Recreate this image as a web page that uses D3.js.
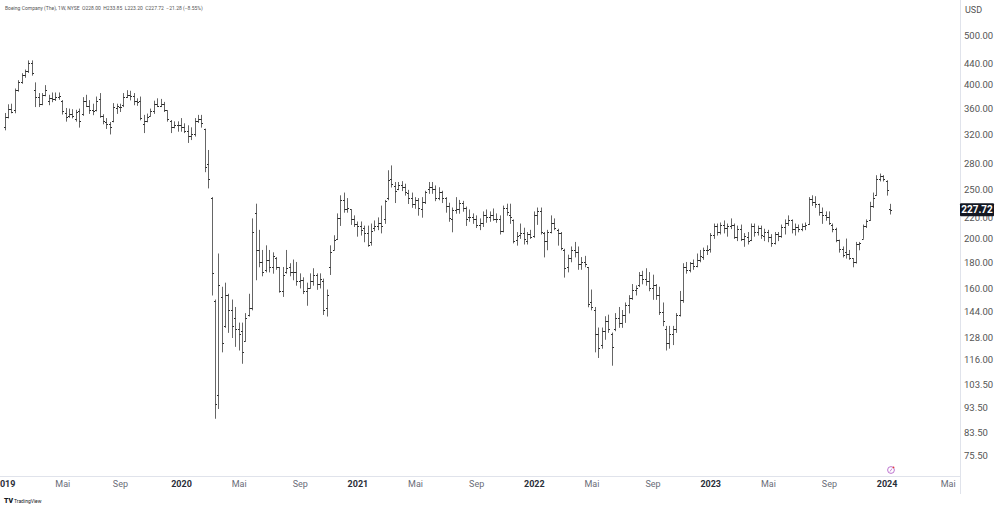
<!DOCTYPE html>
<html><head><meta charset="utf-8">
<script src="https://cdn.jsdelivr.net/npm/d3@7/dist/d3.min.js"></script>
<style>html,body{margin:0;padding:0;background:#fff;}svg{display:block;}</style>
</head><body>
<svg id="chart" width="1000" height="517"></svg>
<script>
// ---- DATA (weekly OHLC, Boeing, NYSE) ----
const firstWeek = "2019-01-07";
const bars2019 = [
[330,352,326,345],[346,366,344,358],[358,367,352,354],[356,393,352,390],[390,408,388,405],
[405,421,402,418],[418,428,413,425],[426,446,422,440],[440,446,417,422],[390,404,362,379],
[378,385,362,367],[367,385,365,381],[382,399,380,391],[372,382,365,376],[376,386,370,375],
[375,386,372,378],[378,386,374,380],[372,373,350,355],[352,360,339,345],[347,359,345,350],
[350,358,344,347],[342,357,339,354],[355,359,330,340],[350,378,348,372],[372,382,362,364],
[364,373,351,356],[356,367,349,355],[356,379,355,372],[375,385,345,348],[348,350,335,340],
[338,344,328,335],[335,338,320,330],[340,368,338,362],[360,367,351,364],[362,367,354,362],
[365,385,362,378],[378,390,377,382],[382,389,373,380],[380,385,365,372],[372,376,364,370],
[372,379,341,344],[335,349,322,340],[340,351,338,345],[348,359,347,355],[355,372,351,367],
[367,376,362,364],[364,375,362,366],[366,370,354,356],[356,356,339,342],[340,341,322,331],
[331,339,329,333],[333,339,324,333]];
const bars2020 = [
[333,344,324,331],[331,336,322,325],[325,333,308,317],[317,330,312,320],[320,344,317,340],
[340,349,337,343],[343,349,330,336],[328,328,270,276],[280,298,251,262],[240,241,155,171],
[151,152,89,95],[99,187,93,162],[154,161,120,125],[135,164,134,155],[155,156,131,145],
[145,152,128,135],[140,147,123,133],[133,137,121,130],[132,137,114,120],[126,143,126,140],
[142,156,141,146],[146,219,145,206],[224,234,166,190],[190,208,176,180],[180,190,169,172],
[174,194,172,182],[182,190,172,176],[176,188,171,185],[183,184,174,176],[176,176,157,158],
[158,176,154,170],[172,190,171,175],[176,179,169,172],[172,182,166,172],[172,180,162,165],
[165,171,160,166],[166,168,156,158],[158,164,148,160],[160,171,160,165],[165,175,162,170],
[170,171,159,163],[163,171,160,167],[165,167,142,145],[146,159,141,155],[176,194,170,188],
[190,203,190,199],[200,224,199,219],[219,243,212,238],[238,246,225,228],[228,240,225,230],
[228,228,213,218],[218,222,211,214]];
const bars2021 = [
[214,216,202,212],[212,216,203,208],[210,212,197,205],[205,212,193,194],[197,214,194,207],
[210,217,207,212],[212,220,208,215],[215,232,205,212],[218,238,214,237],[240,272,238,260],
[262,278,252,256],[253,258,235,248],[250,258,249,254],[254,259,248,252],[252,256,243,247],
[246,249,234,240],[240,246,230,234],[234,241,229,238],[238,240,222,230],[228,241,220,236],
[236,248,234,247],[250,258,245,252],[252,258,245,250],[250,254,237,240],[240,252,238,247],
[247,248,235,240],[240,241,225,232],[232,235,216,219],[218,230,206,227],[227,241,224,228],
[228,238,224,235],[235,237,226,230],[230,231,212,218],[220,228,216,220],[220,224,214,218],
[218,222,210,213],[213,219,208,215],[215,226,211,222],[222,228,215,220],[220,226,216,222],
[222,229,217,218],[218,224,215,218],[218,222,204,207],[207,232,206,230],[230,234,222,225],
[222,234,214,220],[217,218,196,198],[199,206,194,202],[203,214,200,205],[205,210,195,200],
[198,206,195,204],[204,208,200,201]];
const bars2022 = [
[202,226,201,222],[222,230,213,226],[226,230,204,206],[205,206,184,198],[198,208,190,206],
[206,222,205,215],[215,219,208,210],[208,209,194,205],[205,206,190,192],[190,191,168,175],
[176,186,172,183],[183,193,180,190],[190,197,184,188],[188,193,174,178],[178,184,174,180],
[180,185,176,178],[176,176,147,149],[150,159,145,147],[145,147,120,130],[130,134,117,122],
[124,134,122,132],[132,141,127,138],[138,142,131,133],[130,131,113,123],[133,143,132,140],
[140,147,134,137],[137,145,134,142],[142,150,137,148],[148,155,143,153],[153,163,152,159],
[159,162,155,160],[162,172,161,170],[170,173,163,167],[167,175,162,165],[165,172,158,160],
[160,170,152,162],[162,163,152,155],[155,161,142,144],[144,150,135,138],[133,135,121,125],
[125,135,122,130],[130,135,124,133],[133,143,131,142],[142,158,141,152],[152,179,150,176],
[176,180,171,174],[174,180,172,179],[179,182,174,177],[177,187,176,182],[182,190,180,185],
[184,192,182,190],[190,194,186,190]];
const bars2023 = [
[191,205,188,203],[203,214,200,212],[212,214,203,206],[206,215,204,213],[213,217,205,210],
[210,214,202,212],[212,219,209,213],[213,214,200,201],[201,212,198,209],[209,213,198,200],
[200,205,193,202],[201,206,195,198],[199,214,198,212],[212,214,202,206],[206,212,203,210],
[210,212,200,203],[202,209,198,206],[206,208,197,201],[201,204,193,196],[196,206,195,204],
[204,206,198,202],[202,213,201,211],[211,218,204,215],[215,222,212,217],[217,218,205,209],
[209,214,203,211],[211,213,206,209],[209,214,207,212],[212,215,208,213],[214,241,213,239],
[239,243,232,236],[236,242,230,234],[234,234,222,225],[225,230,214,222],[222,226,217,220],
[220,226,213,215],[213,214,206,209],[209,210,197,199],[199,199,188,191],[191,193,184,186],
[188,200,183,187],[187,190,182,183],[183,183,176,180],[180,197,179,195],[195,197,190,196],
[200,213,200,212],[212,218,210,216],[217,236,217,232],[232,246,230,240],[243,266,243,262],
[262,268,259,265],[265,266,259,261]];
const bars2024 = [[259,260,243,249],[228.00,233.85,223.20,227.72]];

const priceTicks = [500,440,400,360,320,280,250,220,200,180,160,144,128,116,103.5,93.5,83.5,75.5];
const timeTicks = [
 ["2019-01-07","2019",true],["2019-05-06","Mai",false],["2019-09-02","Sep",false],
 ["2020-01-06","2020",true],["2020-05-04","Mai",false],["2020-09-07","Sep",false],
 ["2021-01-04","2021",true],["2021-05-03","Mai",false],["2021-09-06","Sep",false],
 ["2022-01-03","2022",true],["2022-05-02","Mai",false],["2022-09-05","Sep",false],
 ["2023-01-02","2023",true],["2023-05-01","Mai",false],["2023-09-04","Sep",false],
 ["2024-01-01","2024",true],["2024-05-06","Mai",false]];
const headerText = "Boeing Company (The), 1W, NYSE  O228.00  H233.85  L223.20  C227.72  \u221221.28 (\u22128.55%)";
const lastPrice = 227.72;

// ---- BUILD ----
const plotR = 960, plotB = 476;
const svg = d3.select("#chart");
const t0 = Date.parse(firstWeek + "T00:00:00Z");
const WEEK = 7*864e5;
const bars = [bars2019,bars2020,bars2021,bars2022,bars2023,bars2024].flat()
  .map((d,i)=>({date:new Date(t0+i*WEEK),o:d[0],h:d[1],l:d[2],c:d[3]}));

const x = d3.scaleUtc()
  .domain([new Date(t0), bars[bars.length-1].date])
  .range([4.6, 890]);
const y = d3.scaleLog().domain([500,75.5]).range([35,455]);

const font = "Roboto, 'Open Sans', sans-serif";

// frame lines
svg.append("line").attr("x1",plotR+0.5).attr("x2",plotR+0.5).attr("y1",0).attr("y2",494)
  .attr("stroke","#e0e3eb").attr("stroke-width",1);
svg.append("line").attr("x1",0).attr("x2",plotR).attr("y1",plotB+0.5).attr("y2",plotB+0.5)
  .attr("stroke","#e0e3eb").attr("stroke-width",1);

// bars
const g = svg.append("g");
const barG = g.selectAll("g.bar").data(bars).join("g").attr("class","bar");
const px = d => Math.round(x(d.date)) + 0.5;
const colV = "#666", colT = "#2a2a2a";
barG.append("line").attr("x1",px).attr("x2",px)
  .attr("y1",d=>y(d.h)).attr("y2",d=>y(d.l)+0.3).attr("stroke",colV).attr("stroke-width",1);
barG.append("line").attr("x1",d=>px(d)-1.5).attr("x2",d=>px(d))
  .attr("y1",d=>Math.round(y(d.o))+0.5).attr("y2",d=>Math.round(y(d.o))+0.5).attr("stroke",colT);
barG.append("line").attr("x1",d=>px(d)).attr("x2",d=>px(d)+1.5)
  .attr("y1",d=>Math.round(y(d.c))+0.5).attr("y2",d=>Math.round(y(d.c))+0.5).attr("stroke",colT);

// y axis
const yAxis = d3.axisRight(y).tickValues(priceTicks).tickFormat(d3.format(".2f")).tickSize(0).tickPadding(4);
const ya = svg.append("g").attr("transform",`translate(${plotR},0)`).call(yAxis);
ya.select(".domain").remove();
ya.selectAll("text").attr("font-family",font).attr("font-size",9.5).attr("fill","#555");

// USD label
svg.append("text").attr("x",965).attr("y",13).text("USD")
  .attr("font-family",font).attr("font-size",9).attr("fill","#555");

// last price label
const ly = y(lastPrice);
svg.append("rect").attr("x",960).attr("y",ly-6.5).attr("width",34).attr("height",13).attr("fill","#131722").attr("rx",1);
svg.append("text").attr("x",977).attr("y",ly+3.5).attr("text-anchor","middle").text(d3.format(".2f")(lastPrice))
  .attr("font-family",font).attr("font-size",10).attr("font-weight","bold").attr("fill","#fff");

// x axis
const tickMap = new Map(timeTicks.map(t=>[Date.parse(t[0]+"T00:00:00Z"),t]));
const xAxis = d3.axisBottom(x).tickValues(timeTicks.map(t=>new Date(t[0]+"T00:00:00Z")))
  .tickFormat(d=>tickMap.get(+d)[1]).tickSize(0).tickPadding(5);
const xa = svg.append("g").attr("transform",`translate(0,${plotB})`).call(xAxis);
xa.select(".domain").remove();
xa.selectAll("text").attr("font-family",font).attr("font-size",9)
  .attr("font-weight",d=>tickMap.get(+d)[2]?"bold":"normal")
  .attr("fill",d=>tickMap.get(+d)[2]?"#2a2e39":"#6a6d78");

// header
svg.append("text").attr("x",5).attr("y",10).text(headerText)
  .attr("font-family",font).attr("font-size",5).attr("fill","#555").attr("xml:space","preserve");

// event marker
svg.append("circle").attr("cx",891).attr("cy",470).attr("r",3.4).attr("fill","#fff").attr("stroke","#b565c9").attr("stroke-width",0.9);
svg.append("line").attr("x1",890).attr("x2",892).attr("y1",471.5).attr("y2",468.5).attr("stroke","#b565c9").attr("stroke-width",0.8);
svg.append("circle").attr("cx",893.5).attr("cy",467.3).attr("r",0.9).attr("fill","#e53935");

// TradingView logo
svg.append("text").attr("x",4).attr("y",503).text("TV").attr("font-family",font)
  .attr("font-size",7).attr("font-weight","900").attr("fill","#131722");
svg.append("text").attr("x",14).attr("y",503).text("TradingView").attr("font-family",font)
  .attr("font-size",5).attr("fill","#131722");
</script>
</body></html>
